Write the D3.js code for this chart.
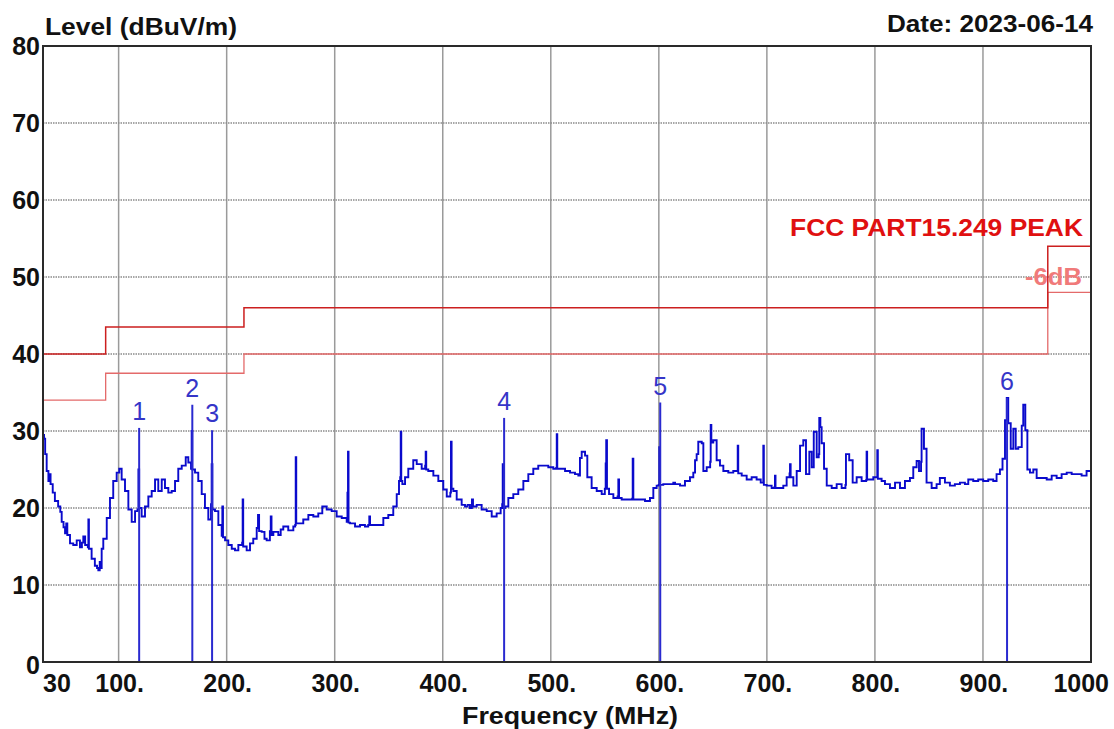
<!DOCTYPE html>
<html><head><meta charset="utf-8">
<script src="https://cdn.jsdelivr.net/npm/d3@7"></script>
<style>
html,body{margin:0;padding:0;background:#fff;}
svg{display:block;font-family:"Liberation Sans",Arial,sans-serif;}
</style></head>
<body>
<svg id="chart" width="1114" height="729"></svg>
<script>
// ---- data ----
const xTicks = [30,100,200,300,400,500,600,700,800,900,1000];
const xTickLabels = ["30","100.","200.","300.","400.","500.","600.","700.","800.","900.","1000"];
const yTicks = [0,10,20,30,40,50,60,70,80];
const limitFreq = [30,88,216,960,1000];
const limitLevel = [40,43.5,46,54,54];
const marginFreq = [30,88,216,960,1000];
const marginLevel = [34,37.5,40,48,48];
const markerFreq = [119,168.2,186.5,456.8,601.3,922.3];
const markerLevel = [30.4,33.4,30.1,31.7,33.7,34.3];
const markerLabel = ["1","2","3","4","5","6"];
const trace = [
[30,29.5],[31,29],[32,27],[33.4,24.8],[35,23.5],[36,24.4],[37,23.1],[39,22],[41,20.9],[44,20.2],[46,19.5],[47.3,18.2],[49,17.5],[50.4,16.7],[51.5,18],[52.5,16.5],[55,15.4],[58,15.2],[61.2,15.8],[64.2,14.9],[66,15.5],[67.3,16.3],[69,15.2],[71.5,14.9],[72,18.5],[72.5,14.7],[75,13.4],[78,12.5],[80,12.2],[81.2,11.9],[82.5,13],[83,12.2],[84.3,14.7],[85.8,16],[89,18.7],[92,21.3],[95,23.5],[98.2,24.6],[100.6,25.1],[102.8,23.7],[105.9,22.2],[109,19.8],[112.1,18.2],[115.2,19.6],[117.5,19.8],[118.3,25],[119,20],[121.3,18.9],[124.4,20.2],[127.5,21.5],[130.6,22.2],[133.7,23.7],[136.7,22.2],[139.9,23.7],[142.9,22.6],[146,22],[149.1,22.2],[152.2,23.5],[155.2,25.1],[158.4,25.5],[162.1,26.6],[164.5,25.9],[167,25.1],[167.6,30],[168.2,25],[170.7,24.6],[173.7,23.5],[176.9,21.8],[179.9,20],[183,18.5],[185.5,20.5],[186.1,25.7],[186.8,19.8],[189.2,19.6],[192.3,17.8],[195.4,16.4],[196,20.2],[196.6,16.2],[198.5,15.8],[201.5,15.2],[204.7,14.7],[207.7,14.5],[210.8,15.2],[214.3,15.5],[214.8,21.1],[215.3,15],[218.5,14.5],[221.6,15.4],
[224.6,16],[227.8,17.4],[229,19.1],[230,17],[232.4,16.9],[235,16],[237,15.8],[240,17],[240.8,18.9],[241.5,16.5],[243.2,16.9],[247.8,16.5],[250,17.2],[252.4,17.6],[257,17.1],[261.7,17.6],[263.4,17.8],[263.9,26.6],[264.4,18],[266.3,18],[270.9,18.5],[275.6,19.1],[280.2,18.9],[284.8,19.3],[288.5,20.2],[292.6,19.8],[297.2,19.6],[301.8,18.9],[306.5,18.7],[311.1,18.2],[311.8,22],[312.3,27.3],[312.8,18.1],[314.2,18],[318.8,17.6],[323.4,17.8],[328,17.6],[331,17.8],[332,18.9],[332.7,17.8],[336,17.8],[340.3,17.8],[345,18.7],[349.6,19.1],[354.2,20.2],[357.4,21.8],[359.5,23.5],[360.6,24],[361.1,29.9],[361.6,23.5],[362.6,23.1],[365.1,24],[368.1,25.1],[372.7,26.2],[375.9,25.7],[380.5,25.1],[383.7,25.5],[384.2,27.3],[384.7,25],[386.6,24.8],[391.3,24.2],[395.9,23.5],[400.5,22.4],[403.7,21.5],[407,22],[407.6,28.6],[408.2,22.5],[409.8,22.2],[412.9,21.1],[417.5,20.4],
[420.6,20.2],[423,20.4],[425.2,20],[427,21.1],[428,20.2],[431.4,20.4],[436,19.8],[440.7,19.6],[445.3,18.9],[449.9,19.3],[453.6,20],[455,20.5],[455.5,25.7],[456,20],[457.6,20.2],[460.7,21.3],[465.3,21.8],[469.9,22.4],[474.6,23.5],[479.2,24.4],[483.8,25.1],[488.4,25.5],[493.1,25.5],[497.7,25.3],[502.3,25.1],[505,25.2],[505.5,29.6],[506,25.1],[508.5,25.1],[513.2,24.8],[517.8,24.6],[522.4,24.4],[525.5,24.2],[527,26.5],[528.6,27.3],[531.7,26.8],[533.8,24],[537.8,22.6],[542.5,22.2],[547.1,21.8],[550,22.5],[550.8,25.8],[551.3,28.8],[552,22.5],[553.9,21.8],[557.9,21.3],[561.8,21.5],[562.5,23.7],[563.2,21.3],[565.6,21.1],[570.3,21.1],[575.3,21.2],[575.8,26.4],[576.4,21.1],[577.9,21.1],[582.6,21.1],[587.2,20.9],[591.8,21.3],[594.9,22.6],[598,22.9],[599.8,23],[600.4,27.9],[601,23],[604.1,23.1],[608.8,23.1],[613.4,23.3],
[615,23.1],[619.6,22.9],[624.2,23.5],[628.8,24],[631.9,24.6],[633.5,26.2],[635,27],[636.5,28.6],[639.7,28.4],[641.2,24.8],[644.3,25.3],[647.5,26],[648,30.8],[648.6,28.5],[650.4,28.8],[653.5,26.2],[656.6,25.5],[659.7,24.8],[664.3,24.6],[668.9,24.8],[672.5,24.8],[673,28.1],[673.5,24.5],[676.7,24.2],[681.3,23.7],[685.9,24],[690.5,23.7],[694.3,23.3],[696.2,23.3],[696.7,28.1],[697.2,23],[699.8,22.9],[704.4,22.6],[707,22.7],[707.5,24.2],[708,22.6],[710.6,22.6],[715.2,22.9],[718.3,24],[721,24.5],[721.4,25.7],[722,24],[724.5,22.9],[727.6,24.8],[730.7,28.1],[733.7,28.8],[736.2,24.4],[739.3,27.3],[741.5,25.3],[743.4,29.9],[746.1,26.6],[748,27],[748.5,31.7],[749.5,30.5],[750.7,28.4],[752.9,25.1],[755.4,22.9],[760,22.6],[764.6,23.1],[769.2,22.6],[772.7,23],[773.2,27],[776.2,26.2],[779.4,23.3],[783.1,24],[787.7,23.5],[791.8,23.6],[792.3,27.3],[792.8,23.7],[795.4,23.7],[798.5,24],[801.7,24],[802.2,27.5],[802.7,23.8],[806.2,23.5],
[809.3,23.1],[813.9,22.6],[818.6,23.3],[823.2,22.6],[827.8,23.5],[832.4,23.9],[835.5,25.3],[838.6,26.1],[840.8,24.8],[842.7,26],[843.2,30.3],[845.4,27.7],[847.8,23.3],[852.5,22.6],[857.1,23.1],[860.1,23.9],[864.8,23.3],[869.4,22.9],[874,23.1],[878.7,23.3],[883.3,23.1],[886.4,23.7],[891,23.5],[895.6,23.7],[900.2,23.5],[904.9,23.7],[909.5,23.5],[912.6,24.4],[915.7,25],[918.1,26.4],[920.4,31.4],[922,34.3],[923.4,31],[925.7,27.7],[928.1,30.3],[930.3,27.7],[932.7,27.9],[935.9,30.7],[937.3,33.4],[939.2,30.1],[941.1,25],[943.5,24.6],[946.6,25],[949.7,23.9],[954.3,23.9],[959,23.7],[963.6,24.2],[968.2,23.9],[972.8,24.4],[977.5,24.6],[982.1,24.4],[986.7,24.4],[991.3,24.2],[995.9,24.8],[1000,24.2]
];

// ---- drawing ----
const svg = d3.select("#chart");
const x = d3.scaleLinear().domain([30,1000]).range([43,1091]);
const y = d3.scaleLinear().domain([0,80]).range([662,46]);

// gridlines
svg.append("g").selectAll("line").data(xTicks.slice(1,-1)).join("line")
  .attr("x1",d=>x(d)).attr("x2",d=>x(d)).attr("y1",y(80)).attr("y2",y(0))
  .attr("stroke","#9a9a9a").attr("stroke-width",1.5);
svg.append("g").selectAll("line").data(yTicks.slice(1,-1)).join("line")
  .attr("x1",x(30)).attr("x2",x(1000)).attr("y1",d=>y(d)).attr("y2",d=>y(d))
  .attr("stroke","#8a8a8a").attr("stroke-width",1.5).attr("stroke-dasharray","1.5,1");

// limit lines
const stepLine = d3.line().x(d=>x(d[0])).y(d=>y(d[1])).curve(d3.curveStepAfter);
svg.append("path").datum(marginFreq.map((f,i)=>[f,marginLevel[i]]))
  .attr("d",stepLine).attr("fill","none").attr("stroke","#e46a6a").attr("stroke-width",1.3);
svg.append("path").datum(limitFreq.map((f,i)=>[f,limitLevel[i]]))
  .attr("d",stepLine).attr("fill","none").attr("stroke","#cc1f1f").attr("stroke-width",1.5);

// trace
const traceLine = d3.line().x(d=>x(d[0])).y(d=>y(d[1])).curve(d3.curveStepAfter);
svg.append("path").datum(trace).attr("d",traceLine).attr("fill","none")
  .attr("stroke","#0a0acc").attr("stroke-width",1.9).attr("stroke-linejoin","miter");

// markers
svg.append("g").selectAll("line").data(markerFreq).join("line")
  .attr("x1",d=>x(d)).attr("x2",d=>x(d)).attr("y1",y(0)).attr("y2",(d,i)=>y(markerLevel[i]))
  .attr("stroke","#2a2ad0").attr("stroke-width",2);
svg.append("g").selectAll("text").data(markerFreq).join("text")
  .attr("x",d=>x(d)).attr("y",(d,i)=>y(markerLevel[i])-8)
  .attr("text-anchor","middle").attr("font-size",25).attr("fill","#3535c8")
  .text((d,i)=>markerLabel[i]);

// frame
svg.append("rect").attr("x",x(30)).attr("y",y(80)).attr("width",x(1000)-x(30)).attr("height",y(0)-y(80))
  .attr("fill","none").attr("stroke","#2a2a2a").attr("stroke-width",2);

// y tick labels
svg.append("g").selectAll("text").data(yTicks).join("text")
  .attr("x",40).attr("y",d=>y(d)+(d===0?12:8.5)).attr("text-anchor","end")
  .attr("font-size",25).attr("font-weight","bold").attr("fill","#111")
  .text(d=>String(d));

// x tick labels
svg.append("g").selectAll("text").data(xTicks).join("text")
  .attr("x",(d,i)=> i===0 ? 43 : (i===xTicks.length-1 ? 1109 : x(d)+1))
  .attr("y",692)
  .attr("text-anchor",(d,i)=> i===0 ? "start" : (i===xTicks.length-1 ? "end" : "middle"))
  .attr("font-size",25).attr("font-weight","bold").attr("fill","#111")
  .text((d,i)=>xTickLabels[i]);

// titles
svg.append("text").attr("x",45).attr("y",35).attr("font-size",23).attr("font-weight","bold")
  .attr("fill","#111").attr("textLength",192).attr("lengthAdjust","spacingAndGlyphs").text("Level (dBuV/m)");
svg.append("text").attr("x",1093).attr("y",32).attr("text-anchor","end").attr("font-size",23).attr("font-weight","bold")
  .attr("fill","#111").attr("textLength",206).attr("lengthAdjust","spacingAndGlyphs").text("Date: 2023-06-14");
svg.append("text").attr("x",462).attr("y",724).attr("font-size",23).attr("font-weight","bold")
  .attr("fill","#111").attr("textLength",216).attr("lengthAdjust","spacingAndGlyphs").text("Frequency (MHz)");
svg.append("text").attr("x",1083).attr("y",236).attr("text-anchor","end").attr("font-size",23).attr("font-weight","bold")
  .attr("fill","#e01010").attr("textLength",293).attr("lengthAdjust","spacingAndGlyphs").text("FCC PART15.249 PEAK");
svg.append("text").attr("x",1082).attr("y",285).attr("text-anchor","end").attr("font-size",23).attr("font-weight","bold")
  .attr("fill","#f07a7a").attr("textLength",57).attr("lengthAdjust","spacingAndGlyphs").text("-6dB");
</script>
</body></html>
